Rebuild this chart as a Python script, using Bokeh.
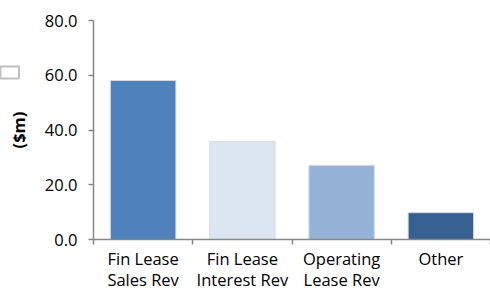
from bokeh.plotting import figure
from bokeh.models import FixedTicker, Range1d, NumeralTickFormatter, Label
from bokeh.embed import file_html
from bokeh.resources import INLINE

categories = ["Fin Lease Sales Rev", "Fin Lease Interest Rev", "Operating Lease Rev", "Other"]
tick_labels = ["Fin Lease\nSales Rev", "Fin Lease\nInterest Rev", "Operating\nLease Rev", "Other"]
values = [58.1, 35.8, 27.1, 9.8]
colors = ["#4F81BD", "#DCE6F2", "#95B3D7", "#376092"]
y_ticks = [0, 20, 40, 60, 80]

FONT = "Open Sans"

x_pos = [i + 0.5 for i in range(len(categories))]

p = figure(width=490, height=294, output_backend="svg", toolbar_location=None,
           x_range=Range1d(0, len(categories)), y_range=Range1d(0, 80),
           min_border_left=93, min_border_right=0, min_border_top=20, min_border_bottom=55)
p.outline_line_color = None
p.grid.visible = False

p.vbar(x=x_pos, top=values, width=0.66, bottom=0, fill_color=colors,
       line_color="#D5DCE6", line_width=1)

xa = p.xaxis[0]
xa.ticker = FixedTicker(ticks=x_pos, minor_ticks=list(range(len(categories) + 1)))
xa.major_label_overrides = {v: t for v, t in zip(x_pos, tick_labels)}
xa.major_tick_out = 0
xa.major_tick_in = 0
xa.minor_tick_out = 5
xa.minor_tick_in = 0
xa.minor_tick_line_color = "#868686"
xa.minor_tick_line_width = 1.5
xa.axis_line_color = "#868686"
xa.axis_line_width = 1.5
xa.major_label_text_font = FONT
xa.major_label_text_font_size = "16.5px"
xa.major_label_text_line_height = 0.95
xa.major_label_text_color = "#000000"
xa.major_label_standoff = 2

ya = p.yaxis[0]
ya.ticker = FixedTicker(ticks=y_ticks)
ya.formatter = NumeralTickFormatter(format="0.0")
ya.major_tick_out = 5
ya.major_tick_in = 0
ya.minor_tick_out = 0
ya.minor_tick_in = 0
ya.major_tick_line_color = "#868686"
ya.major_tick_line_width = 1.5
ya.axis_line_color = "#868686"
ya.axis_line_width = 1.5
ya.major_label_text_font = FONT
ya.major_label_text_font_size = "16.5px"
ya.major_label_text_color = "#000000"
ya.major_label_standoff = 11
ya.axis_label = "($m)"
ya.axis_label_text_font = FONT
ya.axis_label_text_font_size = "16.5px"
ya.axis_label_text_font_style = "bold"
ya.axis_label_text_color = "#000000"
ya.axis_label_standoff = 12

box = Label(x=-93, y=-58, x_units="screen", y_units="screen", text="MMM",
            text_font_size="5px", text_color="white", text_baseline="bottom",
            padding=3, background_fill_color="white", background_fill_alpha=1.0,
            border_line_color="#BFBFBF", border_line_width=2)
p.add_layout(box, "above")

open("out.html", "w").write(file_html(p, INLINE))
